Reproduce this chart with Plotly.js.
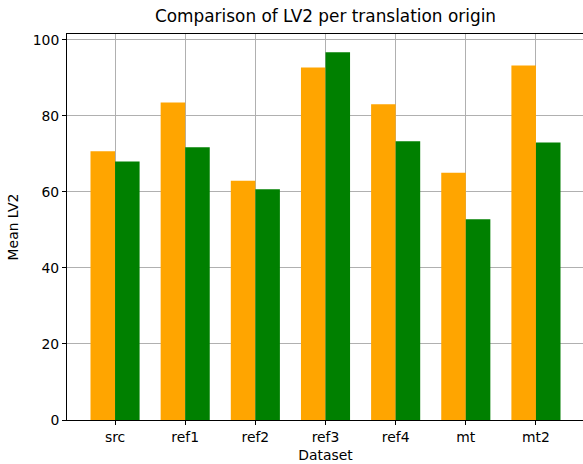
<!DOCTYPE html>
<html>
<head>
<meta charset="utf-8">
<script src="https://cdn.plot.ly/plotly-3.0.1.min.js"></script>
<style>
html,body{margin:0;padding:0;overflow:hidden;background:#fff;}
#chart{width:584px;height:464px;}
</style>
</head>
<body>
<div id="chart"></div>
<script>
const categories = ["src", "ref1", "ref2", "ref3", "ref4", "mt", "mt2"];
const seriesA = [70.7, 83.5, 62.9, 92.7, 83.0, 65.0, 93.2];
const seriesB = [68.0, 71.7, 60.7, 96.7, 73.3, 52.8, 73.0];
const yTicks = [0, 20, 40, 60, 80, 100];

const font = "DejaVu Sans, sans-serif";
const traces = [
  {type: "bar", x: categories, y: seriesA, name: "A", marker: {color: "#FFA500"}, showlegend: false, hoverinfo: "none"},
  {type: "bar", x: categories, y: seriesB, name: "B", marker: {color: "#008000"}, showlegend: false, hoverinfo: "none"}
];
const layout = {
  width: 584, height: 464,
  margin: {l: 67, r: 0, t: 34, b: 44},
  paper_bgcolor: "#fff", plot_bgcolor: "#fff",
  barmode: "group", bargap: 0.3, bargroupgap: 0,
  font: {family: font, color: "#000", size: 13.9},
  title: {text: "Comparison of LV2 per translation origin", font: {family: font, size: 16.9, color: "#000"}, x: 0.5, xref: "paper", xanchor: "center", y: 1, yref: "container", yanchor: "top", pad: {t: 10}},
  xaxis: {
    type: "category", range: [-0.685, 6.685],
    showline: true, linecolor: "#000", linewidth: 1, mirror: true,
    ticks: "outside", ticklen: 4, tickwidth: 1, tickcolor: "#000",
    showgrid: true, gridcolor: "#b0b0b0", gridwidth: 1,
    layer: "above traces", tickfont: {size: 13.9},
    title: {text: "Dataset", font: {size: 13.9}, standoff: 6}
  },
  yaxis: {
    range: [0, 101.5], tickvals: yTicks,
    showline: true, linecolor: "#000", linewidth: 1, mirror: true,
    ticks: "outside", ticklen: 4, tickwidth: 1, tickcolor: "#000",
    showgrid: true, gridcolor: "#b0b0b0", gridwidth: 1, zeroline: false,
    layer: "above traces", tickfont: {size: 13.9},
    title: {text: "Mean LV2", font: {size: 13.9}, standoff: 10}
  }
};
Plotly.newPlot("chart", traces, layout, {staticPlot: true, displayModeBar: false});
</script>
</body>
</html>
